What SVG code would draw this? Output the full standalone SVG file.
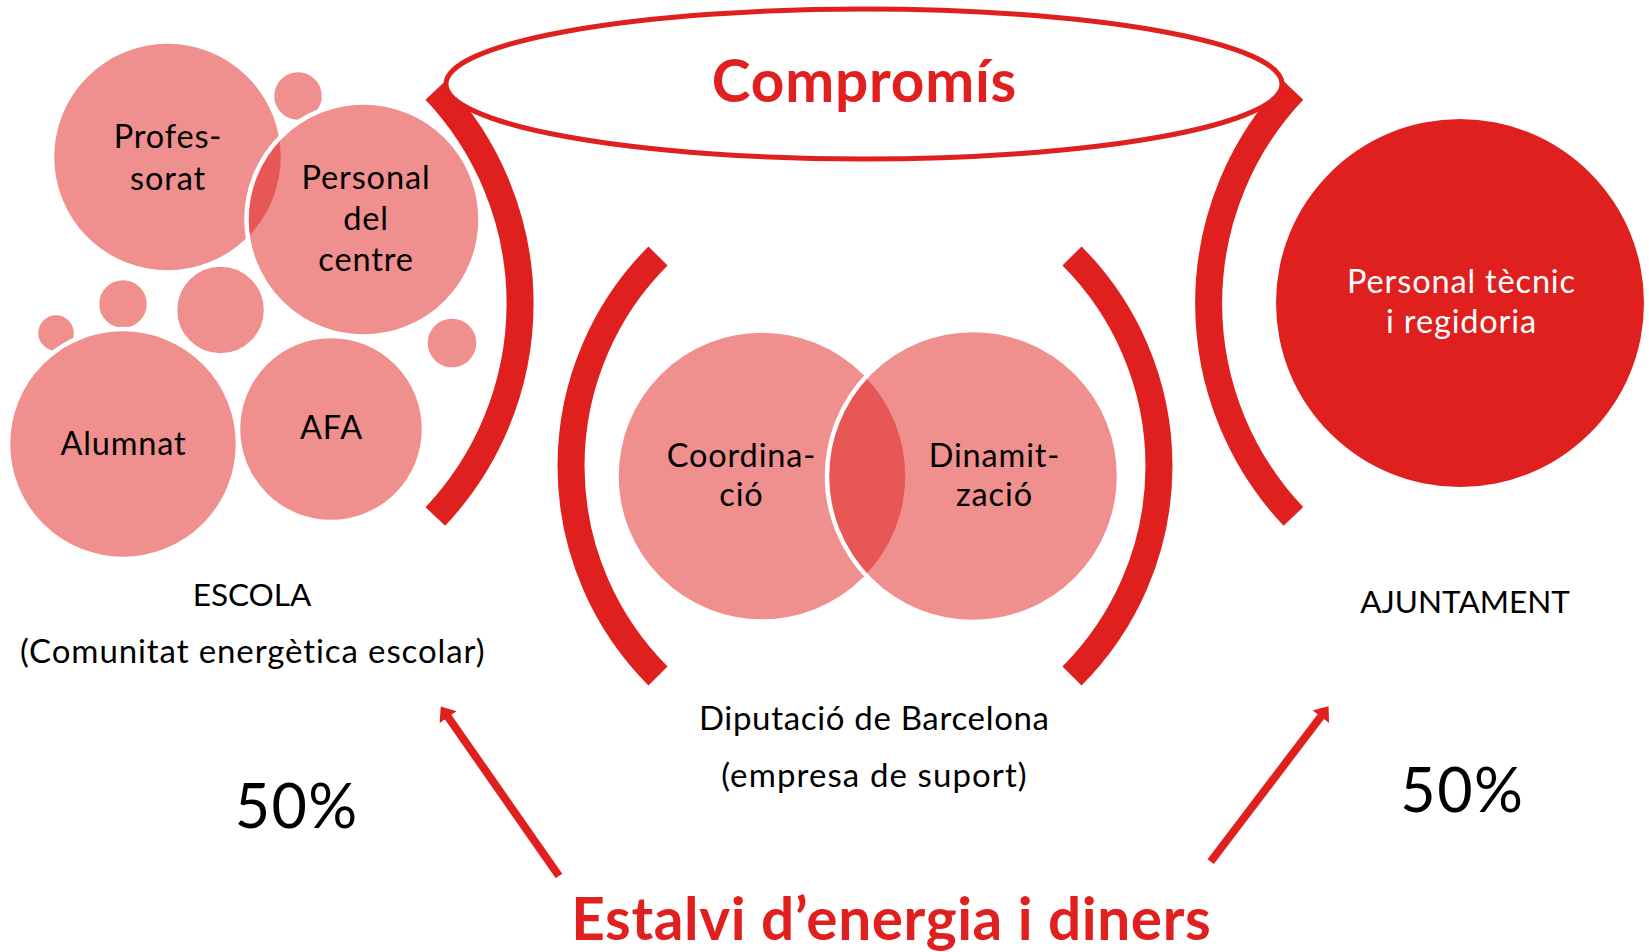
<svg xmlns="http://www.w3.org/2000/svg" width="1649" height="952" viewBox="0 0 1649 952">
<style>
.bg{fill:#ffffff}
.pink{fill:#E0201E;fill-opacity:0.5;stroke:#ffffff;stroke-width:4.5}
.red{fill:#E0201E}
.arc{fill:none;stroke:#E0201E;stroke-width:27;stroke-linecap:butt}
.t{font-family:Lato,"Open Sans","Liberation Sans",sans-serif;fill:#000000;text-anchor:middle}
.c{font-size:32.5px;letter-spacing:0.85px}
.w{fill:#ffffff}
.lab{font-size:33px}
.up{font-size:31.5px}
.pct{font-size:61px;letter-spacing:1.4px}
.title{font-family:Lato,"Open Sans","Liberation Sans",sans-serif;font-weight:bold;fill:#E0201E;text-anchor:middle;font-size:58.5px}
.arrow{fill:none;stroke:#E0201E;stroke-width:8;stroke-linecap:butt}
</style>
<defs>
<marker id="ah" markerUnits="userSpaceOnUse" viewBox="0 0 13 21" refX="0.5" refY="10.5" markerWidth="13" markerHeight="21" orient="auto">
<path d="M0,0 L13,10.5 L0,21 Z" fill="#E0201E"/>
</marker>
</defs>
<rect class="bg" x="0" y="0" width="1649" height="952"/>

<g id="escola-cluster">
<g id="profes"><circle class="pink" cx="167.5" cy="157" r="115.5"/><text class="t c" x="168" y="147.5">Profes-</text><text class="t c" x="168" y="189.5">sorat</text></g>
<g id="dot1"><circle class="pink" cx="298" cy="96" r="26"/></g>
<g id="personal"><circle class="pink" cx="363.5" cy="219.5" r="117"/><text class="t c" x="366" y="188.7">Personal</text><text class="t c" x="366" y="229.7">del</text><text class="t c" x="366" y="270.8">centre</text></g>
<g id="dot2"><circle class="pink" cx="123" cy="304" r="26"/></g>
<g id="dot3"><circle class="pink" cx="56" cy="333" r="20"/></g>
<g id="dot4"><circle class="pink" cx="220.5" cy="310" r="45.5"/></g>
<g id="dot5"><circle class="pink" cx="452" cy="343" r="26.5"/></g>
<g id="alumnat"><circle class="pink" cx="123" cy="444" r="115"/><text class="t c" x="123.5" y="455">Alumnat</text></g>
<g id="afa"><circle class="pink" cx="331" cy="429" r="93"/><text class="t c" x="331.5" y="439">AFA</text></g>
</g>

<g id="diputacio-venn">
<g id="coordinacio"><circle class="pink" cx="762" cy="476" r="145.5"/><text class="t c" x="741.5" y="467">Coordina-</text><text class="t c" x="741.5" y="506">ció</text></g>
<g id="dinamitzacio"><circle class="pink" cx="973" cy="476" r="146"/><text class="t c" x="994.5" y="467">Dinamit-</text><text class="t c" x="994.5" y="506">zació</text></g>
</g>

<g id="ajuntament-node">
<circle class="red" cx="1460" cy="303" r="184"/>
<text class="t c w" x="1461.5" y="292.7">Personal tècnic</text>
<text class="t c w" x="1461.5" y="333.3">i regidoria</text>
</g>

<g id="brackets">
<path class="arc" d="M435.3 90.5 A310 310 0 0 1 435.3 516.5"/>
<path class="arc" d="M1293.4 90.4 A310 310 0 0 0 1293.4 516.4"/>
<path class="arc" d="M658 256 A297 297 0 0 0 658 676"/>
<path class="arc" d="M1072 256 A297 297 0 0 1 1072 676"/>
</g>

<g id="compromis">
<ellipse cx="864" cy="84" rx="418" ry="75" fill="#ffffff" stroke="#E0201E" stroke-width="5"/>
<text class="title" x="864.5" y="102" letter-spacing="0.8">Compromís</text>
</g>

<g id="labels">
<text class="t up" x="252" y="605.7">ESCOLA</text>
<text class="t lab" x="252.8" y="663" letter-spacing="0.9">(Comunitat energètica escolar)</text>
<text class="t up" x="1465" y="613.3">AJUNTAMENT</text>
<text class="t lab" x="874.3" y="730" letter-spacing="0.67">Diputació de Barcelona</text>
<text class="t lab" x="874.5" y="786.7" letter-spacing="1.1">(empresa de suport)</text>
<text class="t pct" x="296.7" y="828.3">50%</text>
<text class="t pct" x="1462.3" y="811.7">50%</text>
</g>

<g id="connectors">
<line class="arrow" x1="559" y1="876" x2="447.9" y2="716.8" marker-end="url(#ah)"/>
<line class="arrow" x1="1210.7" y1="861.7" x2="1321" y2="716.3" marker-end="url(#ah)"/>
</g>

<g id="estalvi">
<text class="title" x="891.3" y="940" letter-spacing="0.6">Estalvi d’energia i diners</text>
</g>
</svg>
